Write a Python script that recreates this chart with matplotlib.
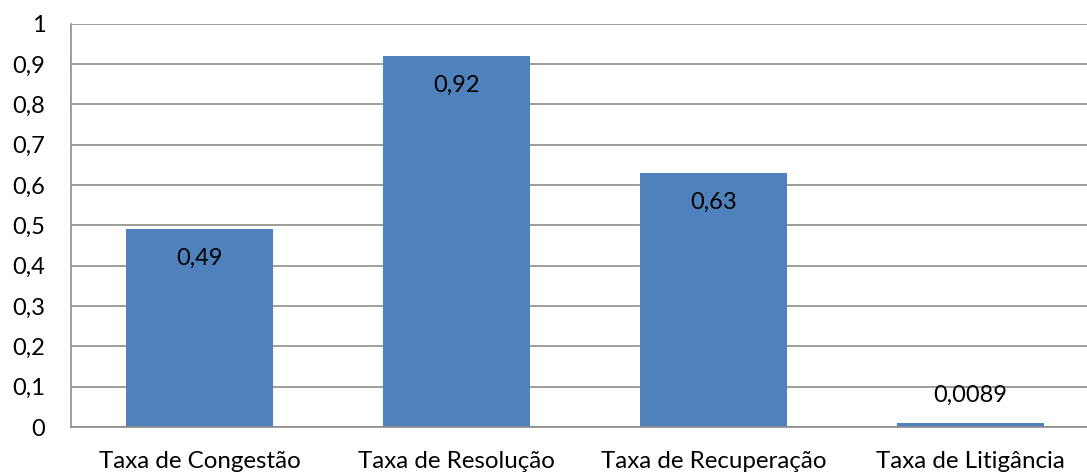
import matplotlib
matplotlib.use("Agg")
import matplotlib.pyplot as plt
from matplotlib.ticker import FuncFormatter

categories = ["Taxa de Congestão", "Taxa de Resolução", "Taxa de Recuperação", "Taxa de Litigância"]
values = [0.49, 0.92, 0.63, 0.0089]
labels = ["0,49", "0,92", "0,63", "0,0089"]
yticks = [0, 0.1, 0.2, 0.3, 0.4, 0.5, 0.6, 0.7, 0.8, 0.9, 1.0]

plt.rcParams['font.family'] = ['Lato', 'DejaVu Sans']

fig = plt.figure(figsize=(10.87, 4.74), dpi=100)
ax = fig.add_axes([71/1087, 47/474, 1028/1087, 403.5/474])

x = list(range(len(categories)))
bars = ax.bar(x, values, width=0.572, color="#4F81BD", zorder=3)
ax.set_xlim(-0.5, len(categories) - 0.5)
ax.set_ylim(0, 1)
ax.set_yticks(yticks)
ax.yaxis.set_major_formatter(FuncFormatter(lambda v, p: ("%g" % round(v, 1)).replace(".", ",")))
ax.set_xticks(x)
ax.set_xticklabels(categories)
ax.tick_params(axis='both', length=0, colors="black")
ax.tick_params(axis='y', pad=18.5, labelsize=17)
ax.tick_params(axis='x', pad=17.5, labelsize=17.4)
ax.grid(axis='y', color="#8c8c8c", linewidth=1.2, zorder=0)
for s in ["top", "right"]:
    ax.spines[s].set_visible(False)
for s in ["left", "bottom"]:
    ax.spines[s].set_color("#8c8c8c")
    ax.spines[s].set_linewidth(1.2)
    ax.spines[s].set_zorder(4)

for xi, v, lab in zip(x, values, labels):
    if v > 0.1:
        ax.annotate(lab, (xi, v), xytext=(0, -21), textcoords="offset points",
                    ha="center", va="center", fontsize=17, color="black", zorder=5)
    else:
        ax.annotate(lab, (xi, v), xytext=(0, 20), textcoords="offset points",
                    ha="center", va="center", fontsize=17, color="black", zorder=5)

fig.savefig("out.png", dpi=100)
